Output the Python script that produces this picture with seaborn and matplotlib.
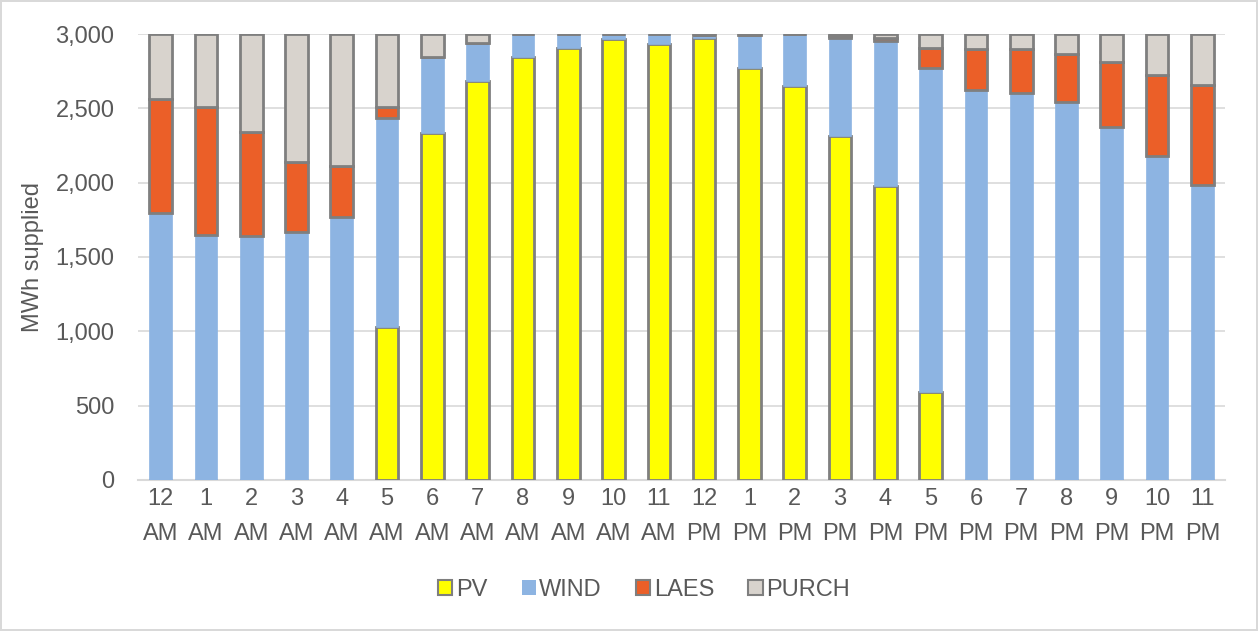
import numpy as np
import pandas as pd
import matplotlib
matplotlib.use("Agg")
import matplotlib.pyplot as plt
import seaborn as sns
from matplotlib.patches import Patch
from matplotlib.ticker import FuncFormatter

hours = ["12\nAM", "1\nAM", "2\nAM", "3\nAM", "4\nAM", "5\nAM", "6\nAM", "7\nAM",
         "8\nAM", "9\nAM", "10\nAM", "11\nAM", "12\nPM", "1\nPM", "2\nPM", "3\nPM",
         "4\nPM", "5\nPM", "6\nPM", "7\nPM", "8\nPM", "9\nPM", "10\nPM", "11\nPM"]
pv = [0, 0, 0, 0, 0, 1031, 2336, 2686, 2843, 2904, 2964, 2931, 2971, 2773, 2652, 2316,
      1980, 590, 0, 0, 0, 0, 0, 0]
wind = [1794, 1650, 1640, 1670, 1771, 1402, 512, 256, 157, 96, 36, 69, 24, 222, 348, 659,
        970, 2179, 2623, 2605, 2545, 2372, 2181, 1984]
laes = [767, 861, 699, 471, 343, 78, 0, 0, 0, 0, 0, 0, 0, 0, 0, 12,
        20, 135, 274, 292, 318, 438, 543, 673]
purch = [439, 489, 661, 859, 886, 489, 152, 58, 0, 0, 0, 0, 5, 5, 0, 13,
         30, 96, 103, 103, 137, 190, 276, 343]

series = ["PV", "WIND", "LAES", "PURCH"]
colors = {"PV": "#FFFF00", "WIND": "#8DB4E2", "LAES": "#EB5F28", "PURCH": "#D8D3CD"}
edges = {"PV": "#7F7F7F", "WIND": "#8DB4E2", "LAES": "#7F7F7F", "PURCH": "#7F7F7F"}
lws = {"PV": 2.0, "WIND": 0.5, "LAES": 2.0, "PURCH": 2.0}

sns.set_theme(style="white")
plt.rcParams['font.family'] = ['Liberation Sans', 'DejaVu Sans']

fig = plt.figure(figsize=(12.58, 6.31), dpi=100)
fig.patch.set_facecolor("white")
fig.patch.set_edgecolor("#D9D9D9")
fig.patch.set_linewidth(1.5)
ax = fig.add_axes([138/1258, 1 - 480/631, (1225-138)/1258, (480-34)/631])

data = {"PV": pv, "WIND": wind, "LAES": laes, "PURCH": purch}
bottom = np.zeros(len(hours))
for s in series:
    vals = np.array(data[s], dtype=float)
    df = pd.DataFrame({"hour": hours, "val": vals})
    sns.barplot(data=df, x="hour", y="val", order=hours, ax=ax, bottom=bottom,
                color=colors[s], edgecolor=edges[s], linewidth=lws[s],
                width=0.5, saturation=1, zorder=3)
    bottom = bottom + vals

ax.set_ylim(0, 3000)
ax.set_xlim(-0.5, len(hours) - 0.5)
ax.set_yticks(np.arange(0, 3001, 500))
ax.yaxis.set_major_formatter(FuncFormatter(lambda v, p: f"{int(v):,}"))
ax.grid(axis="y", color="#D9D9D9", linewidth=1.2, zorder=0)
ax.set_axisbelow(True)
for sp in ["top", "right", "left"]:
    ax.spines[sp].set_visible(False)
ax.spines["bottom"].set_color("#D9D9D9")
ax.spines["bottom"].set_linewidth(1.5)
ax.tick_params(axis="both", length=0, labelsize=17, colors="#595959")
ax.tick_params(axis="y", pad=17)
ax.tick_params(axis="x", pad=6)
for lbl in ax.get_xticklabels():
    lbl.set_linespacing(1.75)
ax.set_xlabel("")
ax.set_ylabel("MWh supplied", fontsize=17, color="#595959")
ax.yaxis.set_label_coords(-(138 - 44) / (1225 - 138), 0.5)

handles = [Patch(facecolor=colors[s], edgecolor=edges[s], linewidth=1.5 if s != "WIND" else 0)
           for s in series]
fig.legend(handles, series, loc="center", bbox_to_anchor=(0.512, 1 - 590/631), ncol=4,
           frameon=False, fontsize=17, handlelength=0.6, handleheight=0.6,
           handletextpad=0.15, columnspacing=1.45, labelcolor="#595959")

fig.savefig("out.png", dpi=100)
